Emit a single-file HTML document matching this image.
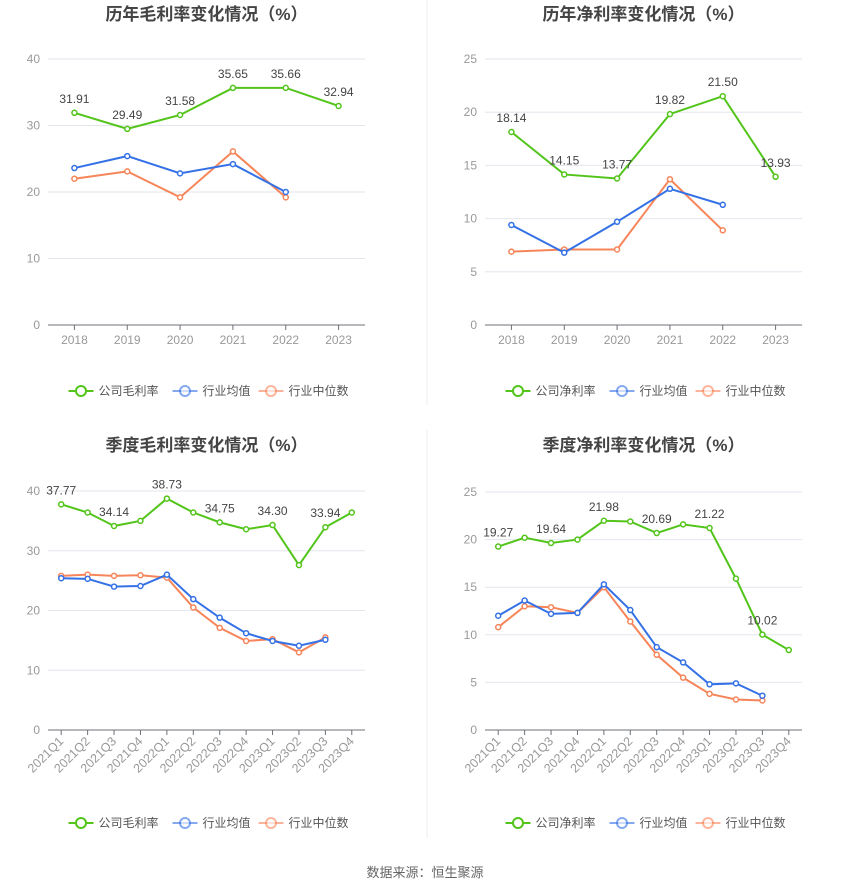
<!DOCTYPE html>
<html><head><meta charset="utf-8"><style>
body{margin:0;background:#fff;width:850px;height:890px;overflow:hidden;font-family:"Liberation Sans","Noto Sans CJK SC",sans-serif}
svg{position:absolute;left:0;top:0}
</style></head><body>
<svg id="s" width="850" height="890" xmlns="http://www.w3.org/2000/svg">
<line x1="427" y1="0" x2="427" y2="405" stroke="#eee"/>
<line x1="427" y1="430" x2="427" y2="838" stroke="#eee"/>
<text x="425" y="877" text-anchor="middle" font-size="13" fill="#666">数据来源：恒生聚源</text>
</svg>
<script>
const yearCats=["2018","2019","2020","2021","2022","2023"];
const qCats=["2021Q1","2021Q2","2021Q3","2021Q4","2022Q1","2022Q2","2022Q3","2022Q4","2023Q1","2023Q2","2023Q3","2023Q4"];
const annGrossCompany=[31.91,29.49,31.58,35.65,35.66,32.94];
const annGrossAvg=[23.6,25.4,22.8,24.2,20.0];
const annGrossMedian=[22.0,23.1,19.2,26.1,19.2];
const annNetCompany=[18.14,14.15,13.77,19.82,21.50,13.93];
const annNetAvg=[9.4,6.8,9.7,12.8,11.3];
const annNetMedian=[6.9,7.1,7.1,13.7,8.9];
const qGrossCompany=[37.77,36.4,34.14,35.0,38.73,36.4,34.75,33.6,34.30,27.6,33.94,36.4];
const qGrossAvg=[25.4,25.3,24.0,24.1,26.0,21.9,18.8,16.2,14.9,14.1,15.1];
const qGrossMedian=[25.8,26.0,25.8,25.9,25.5,20.5,17.1,14.9,15.2,13.0,15.5];
const qNetCompany=[19.27,20.2,19.64,20.0,21.98,21.9,20.69,21.6,21.22,15.9,10.02,8.4];
const qNetAvg=[12.0,13.6,12.2,12.3,15.3,12.6,8.7,7.1,4.8,4.9,3.6];
const qNetMedian=[10.8,13.0,12.9,12.3,15.0,11.4,7.9,5.5,3.8,3.2,3.1];
const ticks40=[0,10,20,30,40];
const ticks25=[0,5,10,15,20,25];
const qLabelIdx=[0,2,4,6,8,10];

const S=document.getElementById('s');
const NS="http://www.w3.org/2000/svg";
function mk(tag,attrs,parent){const e=document.createElementNS(NS,tag);for(const k in attrs)e.setAttribute(k,attrs[k]);(parent||S).appendChild(e);return e;}
const G="#52c41a",B="#3471e6",O="#f7855a";

function chart(o){
  const g=mk('g',{});
  
  
  const n=o.cats.length,bw=(o.right-o.left)/n;
  const X=i=>o.left+bw*(i+0.5);
  const Y=v=>o.y0-(v/o.max)*(o.y0-o.ytop);
  const t=mk('text',{x:(o.left+o.right)/2,y:o.titleY,'text-anchor':'middle','font-size':17,'font-weight':'bold',fill:'#444'},g);
  t.textContent=o.title;
  
  
  o.ticks.forEach(v=>{
    const y=Y(v);
    if(v>0){const l=mk('line',{x1:o.left,x2:o.right,y1:y,y2:y,stroke:'#e3e6ee'},g);
      }
    const tx=mk('text',{x:o.left-8,y:y+4,'text-anchor':'end','font-size':12,fill:'#999'},g);
    tx.textContent=v;
    
    
  });
  const ax=mk('line',{x1:o.left,x2:o.right,y1:o.y0,y2:o.y0,stroke:'#6e7079'},g);
  
  o.cats.forEach((c,i)=>{
    const x=X(i);
    const tk=mk('line',{x1:x,x2:x,y1:o.y0,y2:o.y0+5,stroke:'#6e7079'},g);
    
    let tx;
    if(o.rot){tx=mk('text',{x:x+3,y:o.y0+12,'text-anchor':'end','font-size':12.5,fill:'#999',transform:`rotate(-45 ${x+3} ${o.y0+12})`},g);}
    else tx=mk('text',{x:x,y:o.y0+19,'text-anchor':'middle','font-size':12,fill:'#999'},g);
    tx.textContent=c;
    
    
  });
  [[o.median,O,'industry-median-line'],[o.avg,B,'industry-average-line'],[o.company,G,'company-line']].forEach(([d,col,nm])=>{
    const p=mk('polyline',{points:d.map((v,i)=>X(i)+','+Y(v)).join(' '),fill:'none',stroke:col,'stroke-width':2},g);
    
    d.forEach((v,i)=>{
      const c=mk('circle',{cx:X(i),cy:Y(v),r:2.5,fill:'#fff',stroke:col,'stroke-width':1.5},g);
      
      
    });
  });
  o.company.forEach((v,i)=>{
    if(o.labelIdx && o.labelIdx.indexOf(i)<0)return;
    const tx=mk('text',{x:X(i),y:Y(v)-10,'text-anchor':'middle','font-size':12,fill:'#444'},g);
    tx.textContent=v.toFixed(2);
    
    
  });
  const cx=(o.left+o.right)/2;
  const items=[[o.lg,G,cx-138],['行业均值',B,cx-34],['行业中位数',O,cx+52]];
  items.forEach(([lab,col,lx])=>{
    const lg=mk('g',{},g);
    
    
    mk('line',{x1:lx,x2:lx+25,y1:o.legY,y2:o.legY,stroke:col,'stroke-width':2,opacity:col===G?1:0.6},lg);
    mk('circle',{cx:lx+12.5,cy:o.legY,r:5,fill:'#fff',stroke:col,'stroke-width':2,opacity:col===G?1:0.6},lg);
    const tx=mk('text',{x:lx+30,y:o.legY+4,'font-size':12,fill:'#555'},lg);
    tx.textContent=lab;
  });
}
chart({name:'annual-gross-margin-chart',title:'历年毛利率变化情况（%）',titleY:20,cats:yearCats,company:annGrossCompany,avg:annGrossAvg,median:annGrossMedian,ticks:ticks40,max:40,left:48,right:365,y0:325,ytop:59,legY:391,lg:'公司毛利率'});
chart({name:'annual-net-margin-chart',title:'历年净利率变化情况（%）',titleY:20,cats:yearCats,company:annNetCompany,avg:annNetAvg,median:annNetMedian,ticks:ticks25,max:25,left:485,right:802,y0:325,ytop:59,legY:391,lg:'公司净利率'});
chart({name:'quarterly-gross-margin-chart',title:'季度毛利率变化情况（%）',titleY:451,cats:qCats,company:qGrossCompany,avg:qGrossAvg,median:qGrossMedian,ticks:ticks40,max:40,left:48,right:365,y0:730,ytop:491,legY:823,lg:'公司毛利率',rot:true,labelIdx:qLabelIdx});
chart({name:'quarterly-net-margin-chart',title:'季度净利率变化情况（%）',titleY:451,cats:qCats,company:qNetCompany,avg:qNetAvg,median:qNetMedian,ticks:ticks25,max:25,left:485,right:802,y0:730,ytop:492,legY:823,lg:'公司净利率',rot:true,labelIdx:qLabelIdx});
</script>
</body></html>
